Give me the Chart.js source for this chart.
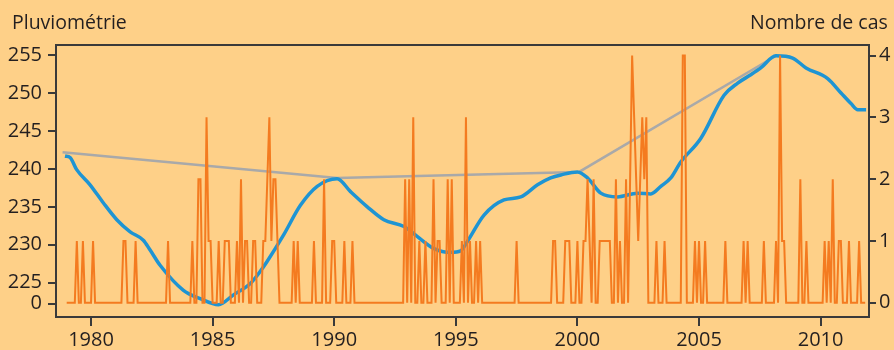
<!DOCTYPE html>
<html>
<head>
<meta charset="utf-8">
<script src="https://cdn.jsdelivr.net/npm/chart.js@4"></script>
<style>
  html, body { margin: 0; padding: 0; background: #FED088; }
  #wrap { position: relative; width: 894px; height: 350px; }
</style>
</head>
<body>
<div id="wrap"><canvas id="c" width="894" height="350"></canvas></div>
<script>
// ---- Data ----
const leftTitle = 'Pluviométrie';
const rightTitle = 'Nombre de cas';

// Blue smoothed rainfall curve (year, mm)
const trendYears = [1978.93,1979.14,1979.41,1979.96,1980.51,1981.06,1981.61,1982.15,1982.43,1982.84,1983.80,1984.49,1985.24,1985.86,1986.55,1986.96,1987.24,1987.92,1988.61,1989.30,1990.12,1990.67,1991.36,1992.04,1992.87,1993.41,1994.10,1994.79,1995.20,1995.47,1996.16,1996.98,1997.67,1998.36,1998.90,1999.32,2000.00,2000.42,2000.96,2001.65,2002.47,2003.02,2003.43,2003.84,2004.25,2005.07,2006.03,2006.59,2007.13,2007.54,2008.16,2008.85,2009.40,2010.29,2010.84,2011.25,2011.53,2011.87];
const trendRain  = [241.7,241.5,239.9,237.9,235.5,233.3,231.7,230.6,229.3,227.3,224.0,222.9,222.1,223.4,224.9,226.5,227.8,231.3,235.2,237.7,238.7,237.0,235.0,233.3,232.4,231.1,229.5,229.0,229.2,230.4,233.9,235.9,236.3,237.9,238.8,239.2,239.6,238.8,236.8,236.3,236.8,236.7,237.7,238.8,240.9,244.0,249.7,251.3,252.4,253.3,254.9,254.6,253.3,251.9,250.0,248.6,247.8,247.8];

// Grey line joining a few points of the curve (year, mm)
const meanYears = [1978.83, 1990.12, 2000.07, 2008.17];
const meanRain  = [242.2, 238.8, 239.6, 254.9];

// Monthly case counts: months (index from Jan 1979) with non-zero counts
const firstYear = 1979;
const monthCount = 395;
const caseMonth = [5,8,13,28,29,34,50,62,65,66,69,70,71,75,78,79,80,84,86,88,89,92,93,97,98,99,100,101,102,103,104,112,114,122,127,131,132,137,141,167,169,171,174,177,181,183,184,188,190,195,197,199,202,204,222,240,241,246,247,248,252,255,256,257,258,260,263,264,265,266,267,268,271,273,276,278,279,280,281,282,283,284,285,286,291,295,304,305,310,312,315,325,334,336,344,350,352,353,354,362,365,374,376,378,381,382,386,391];
const caseCount = [1,1,1,1,1,1,1,1,2,2,3,1,1,1,1,1,1,1,2,1,1,1,1,1,1,2,3,1,2,2,1,1,1,1,2,1,1,1,1,2,2,3,1,1,2,1,1,2,2,1,3,1,1,1,1,1,1,1,1,1,1,1,1,2,1,2,1,1,1,1,1,1,2,1,2,2,4,3,2,1,2,3,2,3,1,1,4,4,1,1,1,1,1,1,1,1,4,1,1,2,1,1,1,2,1,1,1,1];

// Axis ticks
const xTicks = [1980, 1985, 1990, 1995, 2000, 2005, 2010];
const leftTickValues = [222.23, 225, 230, 235, 240, 245, 250, 255];
const leftTickLabels = ['0', '225', '230', '235', '240', '245', '250', '255'];
const rightTicks = [0, 1, 2, 3, 4];

// ---- Build datasets ----
const caseSeries = [];
for (let m = 0; m < monthCount; m++) caseSeries.push({ x: firstYear + m / 12, y: 0 });
caseMonth.forEach((m, i) => { caseSeries[m].y = caseCount[i]; });

const trendSeries = trendYears.map((x, i) => ({ x, y: trendRain[i] }));
const meanSeries = meanYears.map((x, i) => ({ x, y: meanRain[i] }));

const TEXT = '#231F20';
const LINE = '#3A3A3A';
const FONT = "'Open Sans', 'Noto Sans', sans-serif";
const FSIZE = 20;

const framePlugin = {
  id: 'frame',
  beforeDatasetsDraw(chart) {
    const { ctx, chartArea: a } = chart;
    ctx.save();
    ctx.strokeStyle = LINE;
    ctx.lineWidth = 2;
    ctx.strokeRect(a.left, a.top, a.right - a.left, a.bottom - a.top);
    ctx.restore();
  },
  afterDraw(chart) {
    const { ctx } = chart;
    ctx.save();
    ctx.fillStyle = TEXT;
    ctx.font = '19.5px ' + FONT;
    ctx.textBaseline = 'alphabetic';
    ctx.textAlign = 'left';
    ctx.fillText(leftTitle, 12, 29);
    ctx.fillText(rightTitle, 750, 29);
    ctx.restore();
  }
};

new Chart(document.getElementById('c'), {
  type: 'line',
  data: {
    datasets: [
      { data: caseSeries, yAxisID: 'yR', borderColor: '#F47B20', borderWidth: 2, pointRadius: 0, tension: 0 },
      { data: trendSeries, yAxisID: 'yL', borderColor: '#1E94D3', borderWidth: 3.5, pointRadius: 0, cubicInterpolationMode: 'monotone' },
      { data: meanSeries, yAxisID: 'yL', borderColor: '#A9A9A9', borderWidth: 2.5, pointRadius: 0, tension: 0 }
    ]
  },
  options: {
    responsive: false,
    animation: false,
    layout: { padding: { top: 45, left: 0, right: 0, bottom: 0 } },
    plugins: { legend: { display: false }, tooltip: { enabled: false } },
    scales: {
      x: {
        type: 'linear', min: 1978.56, max: 2011.99,
        afterBuildTicks: s => { s.ticks = xTicks.map(v => ({ value: v })); },
        afterFit: s => { s.height = 33; },
        grid: { drawOnChartArea: false, drawTicks: true, tickLength: 9, color: LINE, lineWidth: 2 },
        border: { display: false },
        ticks: { color: TEXT, font: { family: FONT, size: FSIZE }, padding: 2, maxRotation: 0, callback: v => String(v) }
      },
      yL: {
        type: 'linear', position: 'left', min: 220.48, max: 256.32,
        afterBuildTicks: s => { s.ticks = leftTickValues.map(v => ({ value: v })); },
        afterFit: s => { s.width = 56; },
        grid: { drawOnChartArea: false, drawTicks: true, tickLength: 8, color: LINE, lineWidth: 2 },
        border: { display: false },
        ticks: { color: TEXT, font: { family: FONT, size: FSIZE }, padding: 6,
          callback: (v) => leftTickLabels[leftTickValues.indexOf(v)] }
      },
      yR: {
        type: 'linear', position: 'right', min: -0.23, max: 4.17,
        afterBuildTicks: s => { s.ticks = rightTicks.map(v => ({ value: v })); },
        afterFit: s => { s.width = 25; },
        grid: { drawOnChartArea: false, drawTicks: true, tickLength: 7, color: LINE, lineWidth: 2 },
        border: { display: false },
        ticks: { color: TEXT, font: { family: FONT, size: FSIZE }, padding: 3, callback: v => String(v) }
      }
    }
  },
  plugins: [framePlugin]
});
</script>
</body>
</html>
